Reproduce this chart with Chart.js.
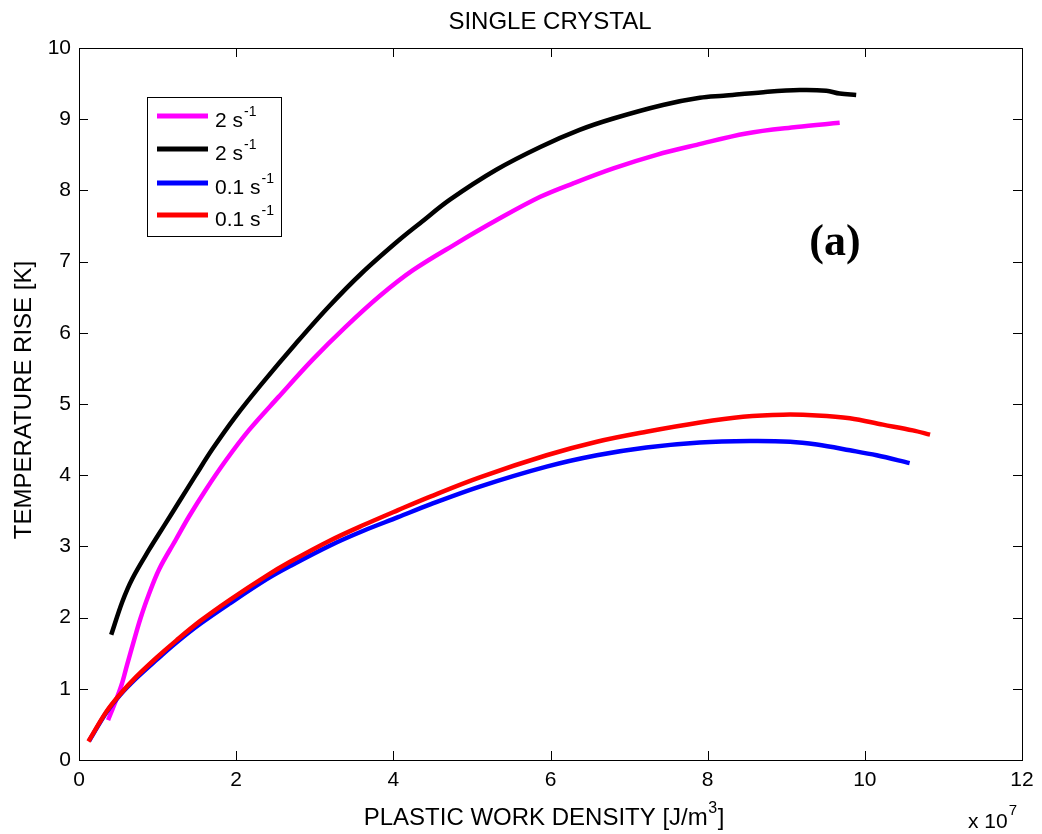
<!DOCTYPE html>
<html>
<head>
<meta charset="utf-8">
<script src="https://cdn.jsdelivr.net/npm/chart.js@4"></script>
<style>
body { margin: 0; background: #fff; }
#wrap { width: 1042px; height: 834px; position: relative; }
</style>
</head>
<body>
<div id="wrap"><canvas id="chart"></canvas></div>
<script>
// plastic work density (x 10^7 J/m3) and temperature rise (K)
let xMagenta = [0.37, 0.45, 0.54, 0.61, 0.70, 0.78, 0.88, 1.02, 1.23, 1.40, 1.61, 1.87, 2.16, 2.54, 2.97, 3.39, 3.83, 4.25, 4.81, 5.31, 5.87, 6.29, 6.80, 7.35, 7.86, 8.49, 9.13, 9.68];
let yMagenta = [0.56, 0.78, 1.05, 1.33, 1.68, 1.98, 2.30, 2.68, 3.09, 3.42, 3.79, 4.21, 4.63, 5.10, 5.62, 6.08, 6.52, 6.88, 7.26, 7.58, 7.91, 8.10, 8.31, 8.50, 8.64, 8.80, 8.89, 8.95];

let xBlack = [0.41, 0.55, 0.68, 0.89, 1.10, 1.27, 1.48, 1.70, 1.99, 2.33, 2.76, 3.18, 3.60, 4.07, 4.34, 4.72, 5.31, 5.87, 6.37, 6.80, 7.43, 7.90, 8.20, 8.71, 9.17, 9.51, 9.68, 9.89];
let yBlack = [1.76, 2.22, 2.55, 2.95, 3.32, 3.62, 3.99, 4.37, 4.82, 5.29, 5.85, 6.37, 6.84, 7.30, 7.54, 7.87, 8.29, 8.61, 8.85, 9.01, 9.20, 9.30, 9.33, 9.38, 9.41, 9.40, 9.36, 9.34];

let xBlue = [0.13, 0.35, 0.52, 0.73, 0.99, 1.24, 1.54, 1.92, 2.39, 2.68, 3.19, 3.62, 4.06, 4.47, 5.10, 5.95, 6.59, 7.22, 7.90, 8.54, 9.05, 9.39, 9.81, 10.15, 10.57];
let yBlue = [0.27, 0.67, 0.91, 1.15, 1.41, 1.65, 1.91, 2.20, 2.54, 2.72, 3.01, 3.22, 3.41, 3.59, 3.84, 4.12, 4.28, 4.39, 4.46, 4.48, 4.47, 4.43, 4.35, 4.28, 4.17];

let xRed = [0.12, 0.35, 0.52, 0.73, 0.99, 1.24, 1.54, 1.92, 2.39, 2.68, 3.19, 3.62, 4.06, 4.47, 5.10, 5.95, 6.59, 7.22, 7.90, 8.45, 8.96, 9.39, 9.81, 10.23, 10.61, 10.83];
let yRed = [0.26, 0.68, 0.92, 1.17, 1.44, 1.68, 1.95, 2.25, 2.59, 2.78, 3.08, 3.30, 3.51, 3.70, 3.97, 4.28, 4.47, 4.61, 4.74, 4.82, 4.85, 4.84, 4.80, 4.71, 4.63, 4.57];

let legendNames = ["2 s", "2 s", "0.1 s", "0.1 s"];
let legendColors = ["#ff00ff", "#000000", "#0000ff", "#ff0000"];
let xTicks = [0, 2, 4, 6, 8, 10, 12];
let yTicks = [0, 1, 2, 3, 4, 5, 6, 7, 8, 9, 10];

let FONT = "'Liberation Sans', Arial, Helvetica, sans-serif";

function toPoints(xs, ys) {
    let pts = [];
    for (let i = 0; i < xs.length; i++) {
        pts.push({ x: xs[i], y: ys[i] });
    }
    return pts;
}

function line(label, xs, ys, color, order) {
    return {
        label: label,
        data: toPoints(xs, ys),
        borderColor: color,
        backgroundColor: color,
        borderWidth: 4.5,
        pointRadius: 0,
        tension: 0.35,
        fill: false,
        order: order
    };
}

// text with a superscript, drawn on the canvas
function supText(ctx, base, sup, x, y, size, supSize, lift) {
    ctx.font = size + "px " + FONT;
    ctx.textAlign = "left";
    ctx.fillText(base, x, y);
    let w = ctx.measureText(base).width;
    ctx.font = supSize + "px " + FONT;
    ctx.fillText(sup, x + w + 1, y - lift);
}

// matlab style box, inward ticks, titles and legend
let matlabLook = {
    id: "matlabLook",
    afterDraw(chart) {
        let ctx = chart.ctx;
        let a = chart.chartArea;
        let xs = chart.scales.x;
        let ys = chart.scales.y;
        ctx.save();
        ctx.strokeStyle = "#000";
        ctx.lineWidth = 1;
        ctx.strokeRect(Math.round(a.left) + 0.5, Math.round(a.top) + 0.5, Math.round(a.right - a.left), Math.round(a.bottom - a.top));

        ctx.beginPath();
        for (let i = 0; i < xTicks.length; i++) {
            let px = Math.round(xs.getPixelForValue(xTicks[i])) + 0.5;
            ctx.moveTo(px, a.bottom);
            ctx.lineTo(px, a.bottom - 9);
            ctx.moveTo(px, a.top);
            ctx.lineTo(px, a.top + 9);
        }
        for (let i = 0; i < yTicks.length; i++) {
            let py = Math.round(ys.getPixelForValue(yTicks[i])) + 0.5;
            ctx.moveTo(a.left, py);
            ctx.lineTo(a.left + 9, py);
            ctx.moveTo(a.right, py);
            ctx.lineTo(a.right - 9, py);
        }
        ctx.stroke();

        ctx.fillStyle = "#000";
        ctx.textBaseline = "alphabetic";

        // title
        ctx.font = "24px " + FONT;
        ctx.textAlign = "center";
        ctx.fillText("SINGLE CRYSTAL", 550, 29);

        // x axis title with superscript
        ctx.font = "24px " + FONT;
        let base = "PLASTIC WORK DENSITY [J/m";
        let wBase = ctx.measureText(base).width;
        ctx.font = "16px " + FONT;
        let wSup = ctx.measureText("3").width;
        ctx.font = "24px " + FONT;
        let wEnd = ctx.measureText("]").width;
        let startX = 544 - (wBase + wSup + wEnd + 1) / 2;
        ctx.textAlign = "left";
        ctx.fillText(base, startX, 825);
        ctx.font = "16px " + FONT;
        ctx.fillText("3", startX + wBase + 0.5, 813);
        ctx.font = "24px " + FONT;
        ctx.fillText("]", startX + wBase + wSup + 1, 825);

        // exponent label
        supText(ctx, "x 10", "7", 968, 828, 21, 15, 13);

        // y axis title
        ctx.save();
        ctx.translate(31, 400);
        ctx.rotate(-Math.PI / 2);
        ctx.font = "24px " + FONT;
        ctx.textAlign = "center";
        ctx.fillText("TEMPERATURE RISE [K]", 0, 0);
        ctx.restore();

        // panel label
        ctx.font = "bold 44px 'Liberation Serif', 'Times New Roman', serif";
        ctx.textAlign = "center";
        ctx.fillText("(a)", 835, 255);

        // legend
        ctx.fillStyle = "#fff";
        ctx.fillRect(147, 97, 134, 139);
        ctx.strokeStyle = "#000";
        ctx.lineWidth = 1;
        ctx.strokeRect(147.5, 97.5, 134, 139);
        let rowY = [116, 149, 183, 215];
        for (let i = 0; i < legendNames.length; i++) {
            ctx.strokeStyle = legendColors[i];
            ctx.lineWidth = 5;
            ctx.beginPath();
            ctx.moveTo(157, rowY[i]);
            ctx.lineTo(208, rowY[i]);
            ctx.stroke();
            ctx.fillStyle = "#000";
            supText(ctx, legendNames[i], "-1", 215, rowY[i] + 11, 21, 14, 11);
        }
        ctx.restore();
    }
};

new Chart("chart", {
    type: "line",
    data: {
        datasets: [
            line("2 s-1", xMagenta, yMagenta, "#ff00ff", 3),
            line("2 s-1", xBlack, yBlack, "#000000", 2),
            line("0.1 s-1", xBlue, yBlue, "#0000ff", 1),
            line("0.1 s-1", xRed, yRed, "#ff0000", 0)
        ]
    },
    options: {
        responsive: true,
        maintainAspectRatio: false,
        animation: false,
        layout: { padding: { top: 48, right: 20, left: 0, bottom: 0 } },
        plugins: {
            legend: { display: false },
            title: { display: false },
            tooltip: { enabled: false }
        },
        scales: {
            x: {
                type: "linear",
                min: 0,
                max: 12,
                afterFit(scale) { scale.height = 74; },
                afterBuildTicks(scale) { scale.ticks = xTicks.map(v => ({ value: v })); },
                grid: { display: false, drawTicks: false },
                border: { display: false },
                ticks: {
                    padding: 8,
                    color: "#000",
                    font: { size: 21, family: FONT },
                    maxRotation: 0,
                    callback: v => String(v)
                }
            },
            y: {
                type: "linear",
                min: 0,
                max: 10,
                afterFit(scale) { scale.width = 79; },
                afterBuildTicks(scale) { scale.ticks = yTicks.map(v => ({ value: v })); },
                grid: { display: false, drawTicks: false },
                border: { display: false },
                ticks: {
                    padding: 8,
                    color: "#000",
                    font: { size: 21, family: FONT },
                    callback: v => String(v)
                }
            }
        }
    },
    plugins: [matlabLook]
});
</script>
</body>
</html>
